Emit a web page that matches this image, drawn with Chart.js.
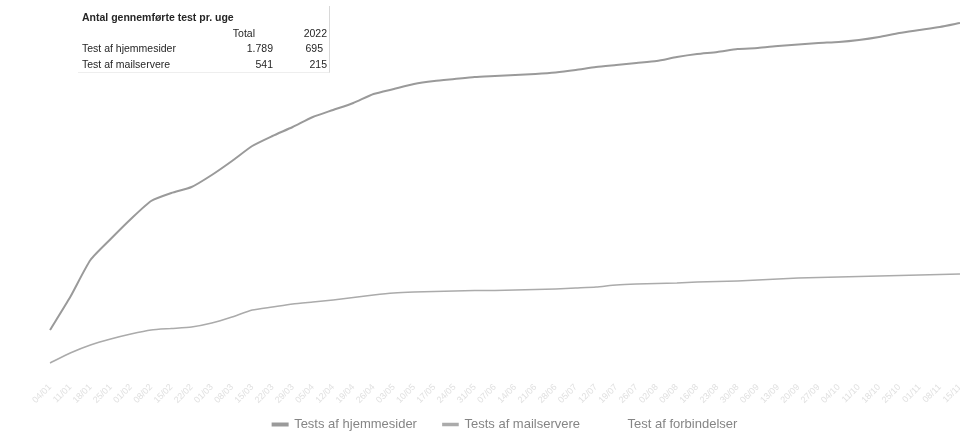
<!DOCTYPE html>
<html>
<head>
<meta charset="utf-8">
<script src="https://cdn.jsdelivr.net/npm/chart.js@4.4.1/dist/chart.umd.min.js"></script>
<style>
  html, body { margin: 0; padding: 0; background: #ffffff; }
  #wrap { position: relative; width: 960px; height: 432px; }
  #tbl { position: absolute; left: 78px; top: 6px; width: 251px; height: 66px;
         border-right: 1px solid #d8d8d8; border-bottom: 1px solid #eeeeee;
         font-family: "Liberation Sans", Arial, sans-serif;
         font-size: 10.5px; color: #262626; }
  #tbl div { position: absolute; white-space: nowrap; }
</style>
</head>
<body>
<div id="wrap">
  <canvas id="c" width="960" height="432"></canvas>
  <div id="tbl"></div>
</div>
<script>
// ---- data ----
const weekLabels = ["04/01","11/01","18/01","25/01","01/02","08/02","15/02","22/02","01/03","08/03",
  "15/03","22/03","29/03","05/04","12/04","19/04","26/04","03/05","10/05","17/05",
  "24/05","31/05","07/06","14/06","21/06","28/06","05/07","12/07","19/07","26/07",
  "02/08","09/08","16/08","23/08","30/08","06/09","13/09","20/09","27/09","04/10",
  "11/10","18/10","25/10","01/11","08/11","15/11"];
const testsHjemmesider = [40,73,110,131,151,169,177,183,195,209,224,234,243,253,260,267,276,281,286,289,
  291,293,294,295,296,297.5,300,303,305,307,309,313,316,318,321,322,324,325.5,327,328,
  330,333,337,340,343,347];
const testsMailservere = [7,17,25,31,36,40,41.5,43,47,53,60,63,66,68,70,72.5,75,77,78,78.5,
  79,79.5,79.5,80,80.5,81,82,83,85,86,86.5,87,88,88.5,89,90,91,92,92.5,93,
  93.5,94,94.5,95,95.5,96];
const testForbindelser = [];
const seriesNames = ["Tests af hjemmesider", "Tests af mailservere", "Test af forbindelser"];

// overlay table
const tableTitle = "Antal gennemførte test pr. uge";
const tableCols = ["Total", "2022"];
const tableRows = ["Test af hjemmesider", "Test af mailservere"];
const tableTotal = ["1.789", "541"];
const table2022 = ["695", "215"];

// ---- table ----
const tbl = document.getElementById('tbl');
function cell(txt, x, y, align, bold) {
  const d = document.createElement('div');
  d.textContent = txt;
  d.style.top = y + 'px';
  if (align === 'right') d.style.right = x + 'px'; else d.style.left = x + 'px';
  if (bold) d.style.fontWeight = 'bold';
  tbl.appendChild(d);
}
cell(tableTitle, 4, 5, 'left', true);
cell(tableCols[0], 74, 21, 'right');
cell(tableCols[1], 2, 21, 'right');
tableRows.forEach((r, i) => {
  cell(r, 4, 36 + i * 16, 'left');
  cell(tableTotal[i], 56, 36 + i * 16, 'right');
  cell(table2022[i], i === 0 ? 6 : 2, 36 + i * 16, 'right');
});

// keep the legend compact at the very bottom
const legendFitPatch = {
  id: 'legendFitPatch',
  beforeLayout(chart) {
    const lg = chart.legend;
    if (lg && !lg._patched) {
      const orig = lg.fit;
      lg.fit = function () { orig.call(this); this.height = 40; };
      lg._patched = true;
    }
  }
};

// ---- chart ----
new Chart(document.getElementById('c'), {
  type: 'line',
  data: {
    labels: weekLabels,
    datasets: [
      { label: seriesNames[0], data: testsHjemmesider, borderColor: '#9a9a9a', backgroundColor: '#9a9a9a',
        borderWidth: 2, pointRadius: 0, tension: 0.2 },
      { label: seriesNames[1], data: testsMailservere, borderColor: '#ababab', backgroundColor: '#ababab',
        borderWidth: 1.6, pointRadius: 0, tension: 0.2 },
      { label: seriesNames[2], data: testForbindelser, borderColor: 'rgba(255,255,255,0)', backgroundColor: 'rgba(255,255,255,0)',
        borderWidth: 1, pointRadius: 0 }
    ]
  },
  plugins: [legendFitPatch],
  options: {
    responsive: false,
    animation: false,
    layout: { padding: { left: 50, right: 0, top: 10, bottom: 0 } },
    scales: {
      x: {
        grid: { display: false },
        border: { display: false },
        ticks: { color: '#e0e0e0', font: { family: 'Liberation Sans', size: 9 }, autoSkip: false,
                 minRotation: 45, maxRotation: 45, padding: 4 },
        afterFit: (s) => {
          s.height = 22; s.paddingRight = 0; s.paddingLeft = 0;
          s._computeLabelArea = () => undefined;
        }
      },
      y: {
        display: false,
        min: 0, max: 360
      }
    },
    plugins: {
      legend: {
        position: 'bottom',
        labels: { color: '#858585', font: { family: 'Liberation Sans', size: 13 },
                  boxWidth: 15, boxHeight: 2, padding: 26 }
      },
      tooltip: { enabled: false }
    }
  }
});
</script>
</body>
</html>
